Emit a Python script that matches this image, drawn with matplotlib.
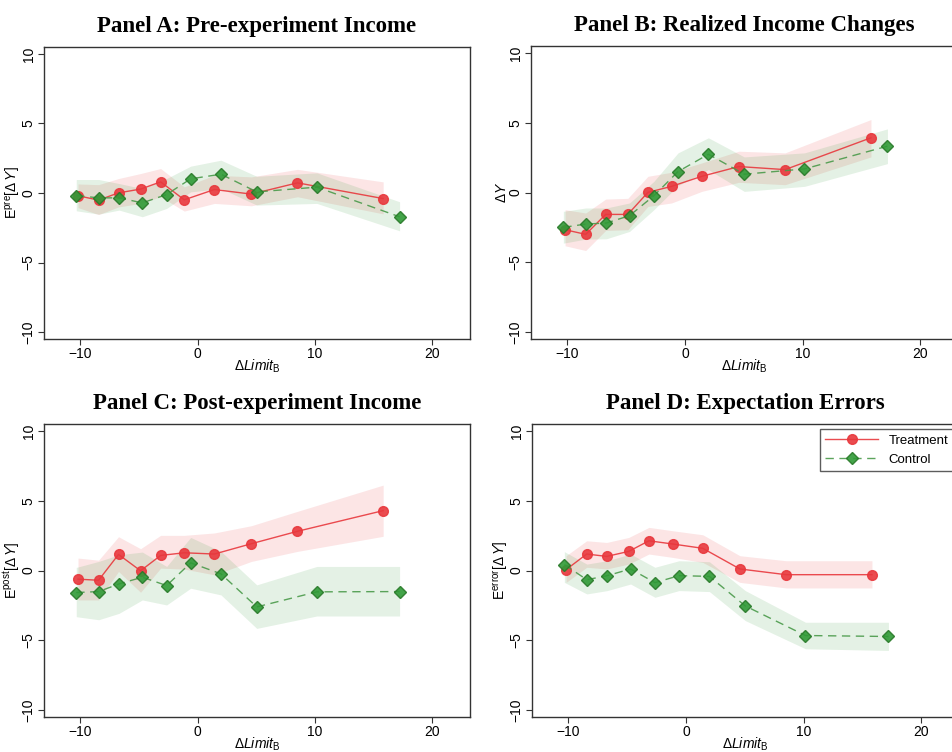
import numpy as np
import matplotlib.pyplot as plt

plt.rcParams.update(
    {
        "font.family": "Liberation Sans",
        "font.size": 9,
        "axes.linewidth": 1.0,
        "axes.edgecolor": "#333333",
        "xtick.color": "#333333",
        "ytick.color": "#333333",
        "xtick.labelcolor": "black",
        "ytick.labelcolor": "black",
        "mathtext.fontset": "custom",
        "mathtext.rm": "Liberation Sans",
        "mathtext.it": "Liberation Sans:italic",
    }
)

# bin centres of the limit change, one set per arm
treat_x = [-10.2, -8.45, -6.75, -4.87, -3.16, -1.15, 1.42, 4.57, 8.5, 15.8]
ctrl_x = [-10.35, -8.44, -6.7, -4.72, -2.65, -0.6, 1.98, 5.03, 10.15, 17.2]

# Panel A: pre-experiment expected income change
pre_treat = [-0.2, -0.51, 0.01, 0.28, 0.8, -0.49, 0.25, -0.08, 0.73, -0.4]
pre_treat_lo = [-1.05, -1.55, -1.0, -0.75, -0.27, -1.3, -0.75, -0.92, -0.27, -1.5]
pre_treat_hi = [0.65, 0.6, 1.04, 1.4, 1.76, 0.44, 1.28, 1.16, 1.7, 0.8]
pre_ctrl = [-0.18, -0.35, -0.35, -0.71, -0.11, 1.02, 1.35, 0.08, 0.42, -1.71]
pre_ctrl_lo = [-1.28, -1.52, -1.23, -1.71, -1.11, 0.08, 0.32, -0.87, -0.75, -2.72]
pre_ctrl_hi = [0.97, 0.97, 0.68, 0.32, 1.04, 1.93, 2.36, 1.2, 1.45, -0.63]

# Panel B: realized income change
real_treat = [-2.67, -3.0, -1.57, -1.57, 0.01, 0.44, 1.16, 1.86, 1.64, 3.92]
real_treat_lo = [-3.82, -4.16, -2.72, -2.67, -1.0, -0.75, 0.08, 0.73, 0.56, 2.55]
real_treat_hi = [-1.23, -1.47, -0.47, -0.42, 1.16, 1.45, 2.12, 2.96, 2.84, 5.23]
real_ctrl = [-2.5, -2.26, -2.19, -1.66, -0.23, 1.5, 2.74, 1.31, 1.69, 3.32]
real_ctrl_lo = [-3.63, -3.34, -3.32, -2.79, -1.23, 0.49, 1.64, 0.08, 0.44, 2.07]
real_ctrl_hi = [-1.35, -1.11, -1.11, -0.75, 0.8, 2.84, 3.92, 2.55, 2.84, 4.56]

# Panel C: post-experiment expected income change
post_treat = [-0.62, -0.7, 1.15, -0.02, 1.08, 1.27, 1.18, 1.92, 2.81, 4.29]
post_treat_lo = [-2.11, -2.11, -0.07, -1.56, 0.17, 0.1, -0.31, 0.65, 1.37, 2.45]
post_treat_hi = [0.89, 0.74, 2.42, 1.56, 2.52, 2.52, 2.69, 3.21, 4.24, 6.12]
post_ctrl = [-1.58, -1.51, -0.96, -0.48, -1.08, 0.55, -0.24, -2.61, -1.53, -1.51]
post_ctrl_lo = [-3.31, -3.53, -3.07, -2.11, -2.47, -1.27, -1.75, -4.15, -3.26, -3.26]
post_ctrl_hi = [0.22, 0.65, 1.13, 1.32, 0.29, 2.37, 1.37, -1.03, 0.29, 0.29]

# Panel D: expectation errors
err_treat = [0.06, 1.18, 1.01, 1.37, 2.13, 1.9, 1.59, 0.11, -0.3, -0.3]
err_treat_lo = [-0.85, 0.23, 0.11, 0.46, 1.18, 0.94, 0.58, -0.85, -1.25, -1.25]
err_treat_hi = [1.06, 2.13, 2.01, 2.37, 3.09, 2.85, 2.56, 1.06, 0.7, 0.7]
err_ctrl = [0.42, -0.66, -0.37, 0.11, -0.87, -0.37, -0.42, -2.54, -4.66, -4.73]
err_ctrl_lo = [-0.85, -1.68, -1.44, -0.97, -1.92, -1.44, -1.51, -3.59, -5.61, -5.73]
err_ctrl_hi = [1.35, 0.46, 0.7, 1.18, 0.23, 0.7, 0.63, -1.44, -3.71, -3.71]

RED = "#e8383d"
GREEN = "#2f9a36"

W, H = 952, 752


def px_axes(fig, left, top, right, bottom):
    return fig.add_axes(
        [left / W, 1 - bottom / H, (right - left) / W, (bottom - top) / H]
    )


def draw_panel(ax, title, ylabel, t, t_lo, t_hi, c, c_lo, c_hi, legend=False):
    ax.fill_between(treat_x, t_lo, t_hi, color=RED, alpha=0.13, lw=0)
    ax.fill_between(ctrl_x, c_lo, c_hi, color=GREEN, alpha=0.13, lw=0)
    ax.plot(treat_x, t, color=RED, lw=1.0, marker="o", ms=7,
            mfc=RED, mec=RED, alpha=0.9, label="Treatment")
    ax.plot(ctrl_x, c, color="#4a9a4a", lw=1.0, ls=(0, (6, 4)), marker="D",
            ms=6.5, mfc=GREEN, mec="#2a7a2a", alpha=0.9, label="Control")
    ax.set_xlim(-13.1, 23.2)
    ax.set_ylim(-10.5, 10.5)
    ax.set_xticks([-10, 0, 10, 20])
    ax.set_yticks([-10, -5, 0, 5, 10])
    ax.set_xticklabels(["\u221210", "0", "10", "20"], fontsize=10)
    ax.set_yticklabels(["\u221210", "\u22125", "0", "5", "10"], fontsize=10,
                       rotation=90, va="center")
    ax.tick_params(length=4, width=0.8, pad=2)
    ax.set_xlabel(r"$\Delta Limit_{\mathrm{B}}$", fontsize=10, labelpad=-3)
    ax.set_ylabel(ylabel, fontsize=10, labelpad=0)
    ax.set_title(title, fontsize=16.5, fontweight="bold",
                 family="Liberation Serif", pad=11)
    if legend:
        leg = ax.legend(loc="upper right", fontsize=9.5, frameon=True,
                        fancybox=False, edgecolor="#333333",
                        handlelength=4, borderaxespad=0.4)
        leg.get_frame().set_linewidth(1.0)


fig = plt.figure(figsize=(W / 100, H / 100), dpi=100)

ax_a = px_axes(fig, 44, 47, 470, 339)
ax_b = px_axes(fig, 531, 46, 958, 339)
ax_c = px_axes(fig, 44, 424, 470, 717)
ax_d = px_axes(fig, 532, 424, 959, 717)

draw_panel(ax_a, "Panel A: Pre-experiment Income", r"E$^{\mathrm{pre}}$[$\Delta\,Y$]",
           pre_treat, pre_treat_lo, pre_treat_hi,
           pre_ctrl, pre_ctrl_lo, pre_ctrl_hi)
draw_panel(ax_b, "Panel B: Realized Income Changes", r"$\Delta Y$",
           real_treat, real_treat_lo, real_treat_hi,
           real_ctrl, real_ctrl_lo, real_ctrl_hi)
draw_panel(ax_c, "Panel C: Post-experiment Income", r"E$^{\mathrm{post}}$[$\Delta\,Y$]",
           post_treat, post_treat_lo, post_treat_hi,
           post_ctrl, post_ctrl_lo, post_ctrl_hi)
draw_panel(ax_d, "Panel D: Expectation Errors", r"E$^{\mathrm{error}}$[$\Delta\,Y$]",
           err_treat, err_treat_lo, err_treat_hi,
           err_ctrl, err_ctrl_lo, err_ctrl_hi, legend=True)

plt.savefig("out.png", dpi=100)
plt.close()
